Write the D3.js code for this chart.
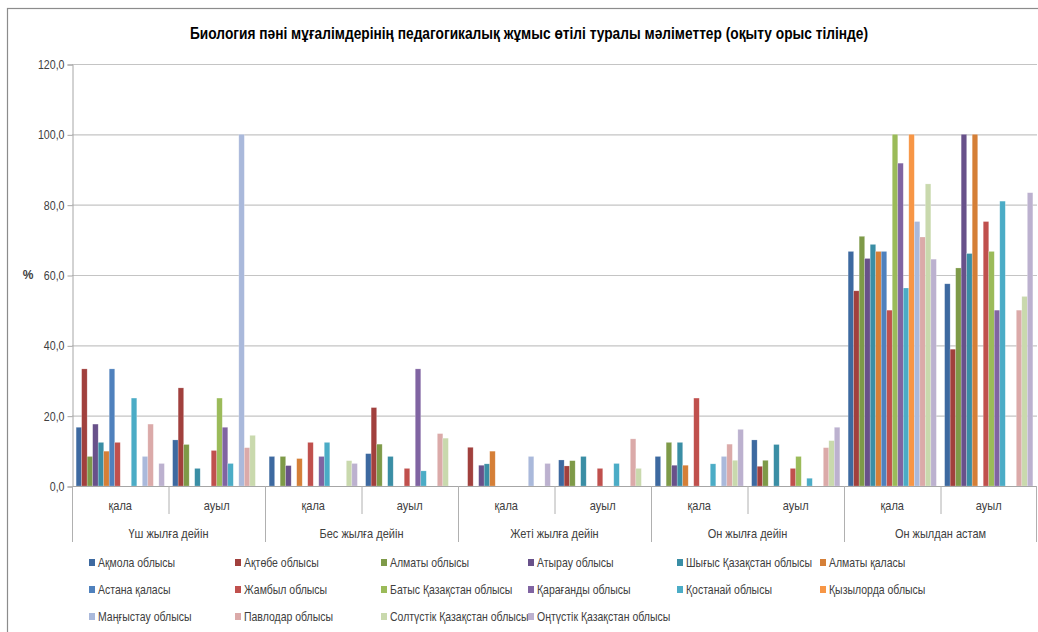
<!DOCTYPE html>
<html><head><meta charset="utf-8">
<script src="https://cdn.jsdelivr.net/npm/d3@7"></script>
<style>
html,body{margin:0;padding:0;background:#fff;}
svg text{font-family:"Liberation Sans",Arial,sans-serif;fill:#404040;}
</style></head>
<body>
<svg id="c" width="1038" height="632"></svg>
<script>
const title = "Биология пәні мұғалімдерінің педагогикалық жұмыс өтілі туралы мәліметтер (оқыту орыс тілінде)";
const groups = ["Үш жылға дейін","Бес жылға дейін","Жеті жылға дейін","Он жылға дейін","Он жылдан астам"];
const subgroups = ["қала","ауыл"];
const seriesNames = ["Ақмола облысы","Ақтөбе облысы","Алматы облысы","Атырау облысы","Шығыс Қазақстан облысы","Алматы қаласы",
  "Астана қаласы","Жамбыл облысы","Батыс Қазақстан облысы","Қарағанды облысы","Қостанай облысы","Қызылорда облысы",
  "Маңғыстау облысы","Павлодар облысы","Солтүстік Қазақстан облысы","Оңтүстік Қазақстан облысы"];
const seriesColors = ["#3d69a0","#a1403d","#7e9a48","#68518a","#3a8ea5","#d57f37",
  "#4f81bd","#c0504d","#9bbb59","#8064a2","#4bacc6","#f79646",
  "#aab9db","#dbaaa9","#c9d9ad","#bcb1cf"];
// values per series, in order: Үш қала, Үш ауыл, Бес қала, Бес ауыл, Жеті қала, Жеті ауыл, Он қала, Он ауыл, Астам қала, Астам ауыл
const vAkmola    = [16.7,13.1,8.4,9.2,0,7.4,8.4,13.1,66.7,57.5];
const vAktobe    = [33.3,27.9,0,22.3,11.0,5.7,0,5.6,55.5,38.9];
const vAlmaty    = [8.4,11.8,8.4,11.9,0,7.2,12.4,7.3,71.0,62.0];
const vAtyrau    = [17.6,0,5.8,0,5.9,0,5.9,0,64.7,100];
const vShygys    = [12.4,5.0,0,8.4,6.3,8.4,12.4,11.8,68.7,66.1];
const vAlmatyCity= [9.9,0,7.8,0,9.9,0,5.9,0,66.7,100];
const vAstana    = [33.3,0,0,0,0,0,0,0,66.7,0];
const vZhambyl   = [12.4,10.1,12.4,5.0,0,5.0,25.0,5.0,50.0,75.2];
const vBatys     = [0,25.0,0,0,0,0,0,8.4,100,66.7];
const vKaragandy = [0,16.7,8.4,33.3,0,0,0,0,91.8,50.0];
const vKostanay  = [25.0,6.4,12.4,4.3,0,6.4,6.3,2.2,56.3,81.0];
const vKyzylorda = [0,0,0,0,0,0,0,0,100,0];
const vMangystau = [8.4,100,0,0,8.4,0,8.4,0,75.2,0];
const vPavlodar  = [17.6,10.9,0,14.9,0,13.4,11.9,10.9,70.8,50.0];
const vSoltustik = [0,14.4,7.2,13.6,0,5.0,7.3,12.9,85.9,53.9];
const vOntustik  = [6.4,0,6.4,0,6.4,0,16.1,16.7,64.5,83.4];
const seriesValues = [vAkmola,vAktobe,vAlmaty,vAtyrau,vShygys,vAlmatyCity,vAstana,vZhambyl,vBatys,vKaragandy,vKostanay,vKyzylorda,vMangystau,vPavlodar,vSoltustik,vOntustik];
const yTicks = [0,20,40,60,80,100,120];

const svg = d3.select("#c");
// narrow text helper
function ntext(parent, x, y, str, size, anchor, sx){
  return parent.append("text").attr("transform",`translate(${x},${y}) scale(${sx},1)`)
    .attr("text-anchor",anchor).style("font-size",size+"px").text(str);
}
// outer frame
svg.append("rect").attr("x",7.5).attr("y",8.5).attr("width",1040).attr("height",640)
  .attr("fill","none").attr("stroke","#8c8c8c").attr("stroke-width",1.2);

const L=72, R=1037, T=64, B=486;
const cats = [];
groups.forEach(g=>subgroups.forEach(s=>cats.push(g+"|"+s)));
const x0 = d3.scaleBand().domain(cats).range([L,R]).padding(0);
const x1 = d3.scaleBand().domain(seriesNames).range([0,x0.bandwidth()]).paddingInner(0).paddingOuter(0.75);
const y = d3.scaleLinear().domain([0,120]).range([B,T]);

// title
svg.append("text").attr("x",529).attr("y",39).attr("text-anchor","middle")
  .style("font-weight","bold").style("font-size","16.5px").style("fill","#000")
  .attr("textLength",678).attr("lengthAdjust","spacingAndGlyphs").text(title);

// gridlines
svg.append("g").selectAll("line").data(yTicks.filter(d=>d>0)).join("line")
  .attr("x1",L).attr("x2",R).attr("y1",d=>y(d)+0.5).attr("y2",d=>y(d)+0.5)
  .attr("stroke","#c4c4c4").attr("stroke-width",1.2);

// y axis
const yAxis = d3.axisLeft(y).tickValues(yTicks).tickSize(5).tickPadding(4)
  .tickFormat(d=>d3.format(".1f")(d).replace(".",","));
const ya = svg.append("g").attr("transform",`translate(${L+0.5},0.5)`).call(yAxis);
ya.select(".domain").attr("stroke","#a6a6a6");
ya.selectAll(".tick line").attr("stroke","#a6a6a6");
ya.selectAll(".tick text").style("font-size","12.5px").style("fill","#404040")
  .attr("x",null).attr("transform","translate(-8,0) scale(0.85,1)");
svg.append("text").attr("x",28).attr("y",279).attr("text-anchor","middle")
  .style("font-size","12px").style("font-weight","bold").style("fill","#404040").text("%");

// bars
const bars = svg.append("g");
seriesNames.forEach((s,si)=>{
  bars.append("g").selectAll("rect").data(seriesValues[si].map((v,i)=>({v,c:cats[i]}))).join("rect")
    .filter(d=>d.v>0)
    .attr("x",d=>x0(d.c)+x1(s)).attr("width",x1.bandwidth())
    .attr("y",d=>y(d.v)).attr("height",d=>y(0)-y(d.v))
    .attr("fill",seriesColors[si]).attr("stroke","rgba(255,255,255,0.35)").attr("stroke-width",0.6);
});

// x axis baseline
svg.append("line").attr("x1",L).attr("x2",R).attr("y1",B+0.5).attr("y2",B+0.5).attr("stroke","#a6a6a6");
// multi-level dividers
const ax = svg.append("g");
cats.forEach((c,i)=>{
  const xx = x0(c)+0.5;
  ax.append("line").attr("x1",xx).attr("x2",xx).attr("y1",B).attr("y2", i%2===0 ? 542 : 514).attr("stroke","#b0b0b0");
});
ax.append("line").attr("x1",R-0.5).attr("x2",R-0.5).attr("y1",B).attr("y2",542).attr("stroke","#b0b0b0");
cats.forEach(c=>ntext(ax, x0(c)+x0.bandwidth()/2, 510, c.split("|")[1], 12.5, "middle", 0.88));
groups.forEach(g=>ntext(ax, x0(g+"|"+subgroups[0])+x0.bandwidth(), 538, g, 12.5, "middle", 0.88));

// legend
const colX = [89,235,381,528,677,820];
const rowY = [563,590,617];
const lg = svg.append("g");
seriesNames.forEach((s,i)=>{
  const cx = colX[i%6], cy = rowY[Math.floor(i/6)];
  lg.append("rect").attr("x",cx).attr("y",cy-4).attr("width",6).attr("height",7).attr("fill",seriesColors[i]);
  ntext(lg, cx+9, cy+4, s, 12.5, "start", 0.84);
});
</script>
</body></html>
